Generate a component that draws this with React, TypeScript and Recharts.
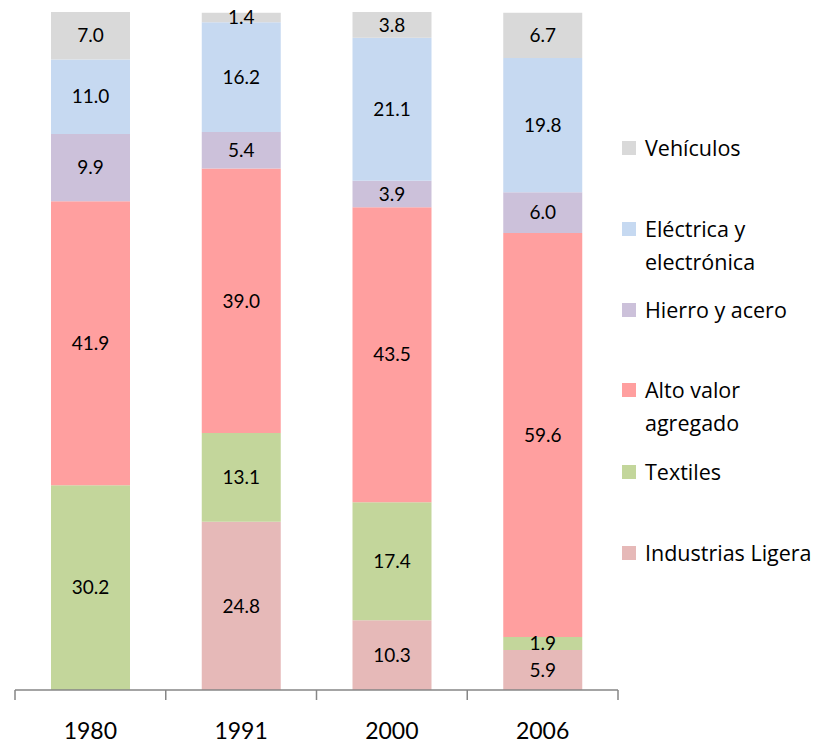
import { Bar, BarChart, LabelList, XAxis, YAxis } from "recharts";

const years = ["1980", "1991", "2000", "2006"];
const industriasLigera = [0, 24.8, 10.3, 5.9];
const textiles = [30.2, 13.1, 17.4, 1.9];
const altoValor = [41.9, 39.0, 43.5, 59.6];
const hierroAcero = [9.9, 5.4, 3.9, 6.0];
const electrica = [11.0, 16.2, 21.1, 19.8];
const vehiculos = [7.0, 1.4, 3.8, 6.7];

const series = [
  { key: "ligera", name: "Industrias Ligera", values: industriasLigera, color: "#e6b9b8" },
  { key: "textiles", name: "Textiles", values: textiles, color: "#c3d69b" },
  { key: "alto", name: "Alto valor agregado", values: altoValor, color: "#ff9f9f" },
  { key: "hierro", name: "Hierro y acero", values: hierroAcero, color: "#ccc1da" },
  { key: "electrica", name: "Eléctrica y electrónica", values: electrica, color: "#c6d9f1" },
  { key: "vehiculos", name: "Vehículos", values: vehiculos, color: "#d9d9d9" },
];

const data = years.map((year, i) => {
  const row: Record<string, string | number> = { year };
  series.forEach((s) => (row[s.key] = s.values[i]));
  return row;
});

const W = 823;
const H = 744;
const LEFT = 15;
const RIGHT = 205;
const step = (W - LEFT - RIGHT) / years.length;
const FONT = "Lato, 'Open Sans', sans-serif";

// category labels sit between Excel-style boundary ticks
function YearTick(props: any) {
  const { x, y, payload, index } = props;
  const top = y - 8;
  const left = x - step / 2;
  return (
    <g>
      <line x1={left} y1={top} x2={left} y2={top + 10} stroke="#868686" strokeWidth={1.5} />
      {index === years.length - 1 && (
        <line x1={x + step / 2} y1={top} x2={x + step / 2} y2={top + 10} stroke="#868686" strokeWidth={1.5} />
      )}
      <text x={x} y={top + 49} textAnchor="middle" fontSize={23} fill="#000" fontFamily={FONT}>
        {payload.value}
      </text>
    </g>
  );
}

const legendRows = [
  { name: "Vehículos", lines: ["Vehículos"], color: "#d9d9d9", top: 131 },
  { name: "Eléctrica", lines: ["Eléctrica y", "electrónica"], color: "#c6d9f1", top: 212 },
  { name: "Hierro", lines: ["Hierro y acero"], color: "#ccc1da", top: 293 },
  { name: "Alto", lines: ["Alto valor", "agregado"], color: "#ff9f9f", top: 373 },
  { name: "Textiles", lines: ["Textiles"], color: "#c3d69b", top: 455 },
  { name: "Ligera", lines: ["Industrias Ligera"], color: "#e6b9b8", top: 536 },
];

export default function App() {
  return (
    <div style={{ position: "absolute", left: 0, top: 0, width: W, height: H, background: "#fff" }}>
      <BarChart
        width={W}
        height={H}
        data={data}
        margin={{ top: 12, right: RIGHT, bottom: 0, left: LEFT }}
        barSize={79}
      >
        <XAxis
          dataKey="year"
          height={54}
          tickLine={false}
          axisLine={{ stroke: "#868686", strokeWidth: 1.5 }}
          tick={<YearTick />}
          interval={0}
        />
        <YAxis hide domain={[0, 100]} />
        {series.map((s) => (
          <Bar key={s.key} dataKey={s.key} stackId="a" fill={s.color} isAnimationActive={false}>
            <LabelList
              dataKey={s.key}
              position="center"
              formatter={(v: any) => (v ? Number(v).toFixed(1) : "")}
              style={{ fontSize: 19, fill: "#000", fontFamily: FONT }}
            />
          </Bar>
        ))}
      </BarChart>
      {legendRows.map((r) => (
        <div
          key={r.name}
          style={{
            position: "absolute",
            left: 622,
            top: r.top,
            fontFamily: "'Open Sans', sans-serif",
            fontSize: 21.5,
            lineHeight: "33px",
            color: "#000",
          }}
        >
          <span
            style={{
              position: "absolute",
              left: 0,
              top: 10,
              width: 14,
              height: 14,
              background: r.color,
            }}
          />
          <div style={{ marginLeft: 23, whiteSpace: "nowrap" }}>
            {r.lines.map((l) => (
              <div key={l}>{l}</div>
            ))}
          </div>
        </div>
      ))}
    </div>
  );
}
